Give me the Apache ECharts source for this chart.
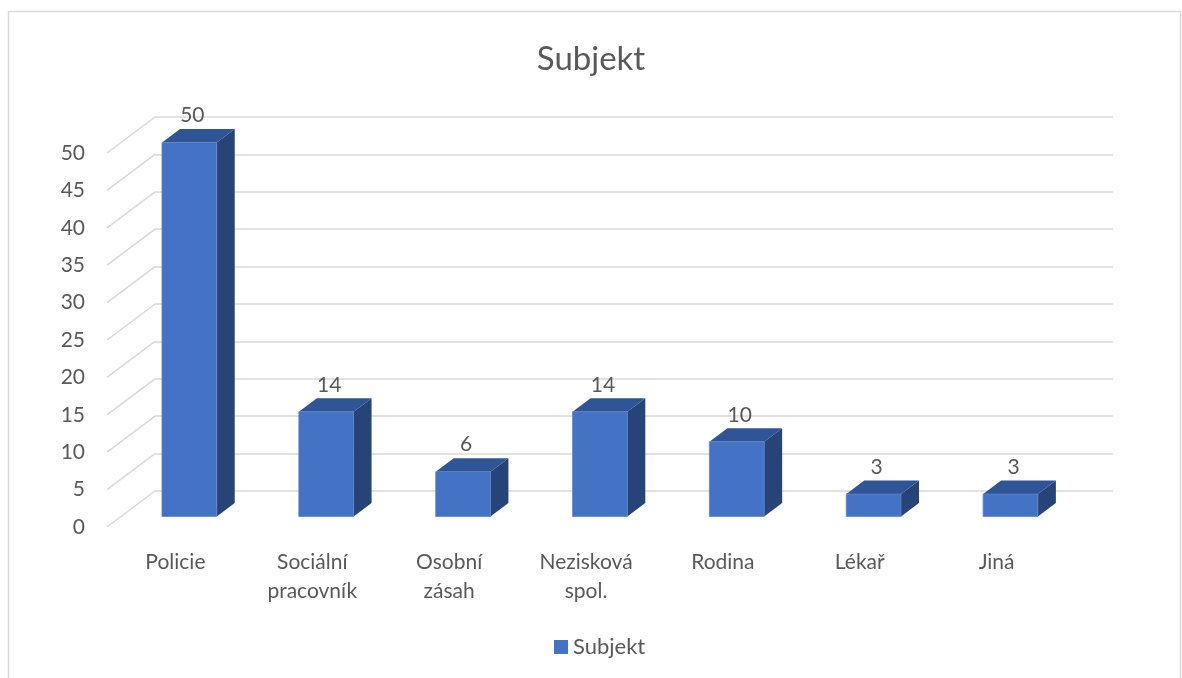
<!DOCTYPE html>
<html>
<head>
<meta charset="utf-8">
<script src="https://cdn.jsdelivr.net/npm/echarts@6/dist/echarts.min.js"></script>
<style>
html,body{margin:0;padding:0;background:#fff;}
#chart{width:1182px;height:678px;}
</style>
</head>
<body>
<div id="chart"></div>
<script>
// ---- data ----
const categories = ['Policie', 'Sociální\npracovník', 'Osobní\nzásah', 'Nezisková\nspol.', 'Rodina', 'Lékař', 'Jiná'];
const values = [50, 14, 6, 14, 10, 3, 3];
const yTicks = [0, 5, 10, 15, 20, 25, 30, 35, 40, 45, 50];
const seriesName = 'Subjekt';
const chartTitle = 'Subjekt';

// ---- layout / style constants ----
const FONT = 'Lato';
const TXT = '#595959';
const GRIDC = '#d9d9d9';
const DX = 48, DY = -36;          // depth vector front plane -> back wall
const FRONT_F = 0.29;             // bar front face depth fraction
const DEPTH_F = 0.375;            // bar depth fraction
const BAR_W = 0.4;                // bar width as band fraction
const C_FRONT = '#4472c4', C_TOP = '#2f5597', C_SIDE = '#264478';

const chart = echarts.init(document.getElementById('chart'));

const barData = values.map((v, i) => [i, v]);
const tickData = yTicks.map(t => [0, t]);

chart.setOption({
  animation: false,
  backgroundColor: '#fff',
  textStyle: { fontFamily: FONT },
  title: {
    text: chartTitle, left: 'center', top: 38,
    textStyle: { fontFamily: FONT, fontSize: 33, fontWeight: 'normal', color: TXT }
  },
  legend: {
    data: [seriesName], left: 549, top: 631,
    itemWidth: 14, itemHeight: 14, itemGap: 10,
    icon: 'rect',
    textStyle: { fontFamily: FONT, fontSize: 22, color: TXT, padding: [0, 0, 0, 0] }
  },
  graphic: [{
    type: 'rect', silent: true, z: -10,
    shape: { x: 8.5, y: 11.5, width: 1172, height: 700 },
    style: { fill: '#fff', stroke: GRIDC, lineWidth: 1.5 }
  }],
  grid: [
    // back wall
    { left: 155, right: 69, top: 117, bottom: 187 },
    // front plane
    { left: 107, right: 117, top: 153, bottom: 151 }
  ],
  xAxis: [
    { gridIndex: 0, type: 'category', data: categories, axisLine: { show: false }, axisTick: { show: false }, axisLabel: { show: false } },
    { gridIndex: 1, type: 'category', data: categories, axisLine: { show: false }, axisTick: { show: false },
      axisLabel: { fontFamily: FONT, fontSize: 21, color: TXT, margin: 21, lineHeight: 29, interval: 0 } }
  ],
  yAxis: [
    { gridIndex: 0, type: 'value', min: 0, max: 50, interval: 5,
      axisLine: { show: false }, axisTick: { show: false }, axisLabel: { show: false },
      splitLine: { lineStyle: { color: GRIDC, width: 1.5 } } },
    { gridIndex: 1, type: 'value', min: 0, max: 50, interval: 5,
      axisLine: { show: false }, axisTick: { show: false }, splitLine: { show: false },
      axisLabel: { fontFamily: FONT, fontSize: 21, color: TXT, margin: 22 } }
  ],
  series: [
    {
      type: 'custom', name: 'sidewall', xAxisIndex: 1, yAxisIndex: 1, silent: true, z: 1,
      data: tickData,
      renderItem: function (params, api) {
        const p = api.coord([api.value(0), api.value(1)]);
        const x = params.coordSys.x;
        return { type: 'line', shape: { x1: x, y1: p[1], x2: x + DX, y2: p[1] + DY },
          style: { stroke: GRIDC, lineWidth: 1.5 } };
      }
    },
    {
      type: 'custom', name: seriesName, xAxisIndex: 1, yAxisIndex: 1, z: 3,
      itemStyle: { color: C_FRONT },
      data: barData,
      renderItem: function (params, api) {
        const top = api.coord([api.value(0), api.value(1)]);
        const base = api.coord([api.value(0), 0]);
        const bw = api.size([1, 0])[0] * BAR_W;
        const ox = DX * FRONT_F, oy = DY * FRONT_F;
        const dx = DX * DEPTH_F, dy = DY * DEPTH_F;
        const x0 = top[0] + ox - bw / 2, x1 = x0 + bw;
        const yT = top[1] + oy, yB = base[1] + oy;
        return {
          type: 'group',
          children: [
            { type: 'polygon', shape: { points: [[x1, yT], [x1 + dx, yT + dy], [x1 + dx, yB + dy], [x1, yB]] },
              style: { fill: C_SIDE } },
            { type: 'polygon', shape: { points: [[x0, yT], [x1, yT], [x1 + dx, yT + dy], [x0 + dx, yT + dy]] },
              style: { fill: C_TOP } },
            { type: 'rect', shape: { x: x0, y: yT, width: bw, height: yB - yT },
              style: { fill: C_FRONT, stroke: '#5b84cc', lineWidth: 0.8 } },
            { type: 'text', z2: 10, style: { text: String(api.value(1)), x: (x0 + x1) / 2 + 3, y: yT + dy - 3,
              align: 'center', verticalAlign: 'bottom', fontFamily: FONT, fontSize: 21, fill: TXT } }
          ]
        };
      }
    }
  ]
});
</script>
</body>
</html>
